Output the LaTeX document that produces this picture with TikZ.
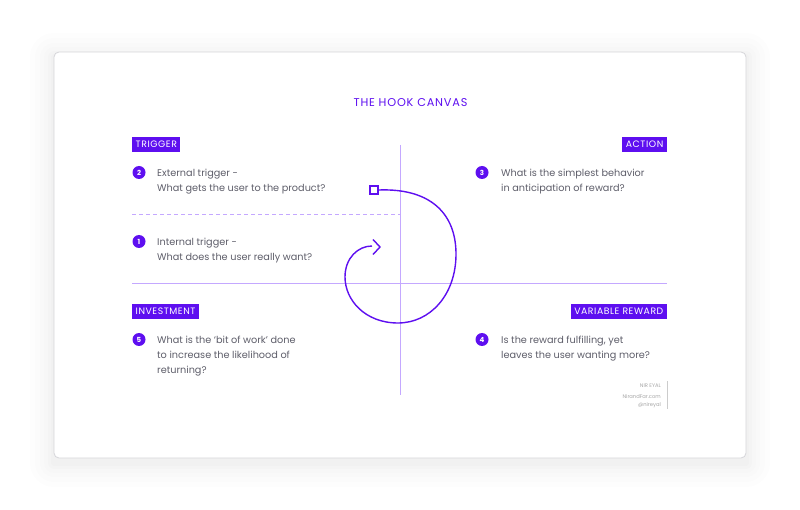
\documentclass[tikz,border=0pt]{standalone}
\usepackage{fontspec}
\setmainfont{Poppins}
\begin{document}
\definecolor{hookpurple}{HTML}{5E0FF0}
\definecolor{axispurple}{HTML}{C4A8FF}
\definecolor{bodygrey}{HTML}{5E5E6A}
\definecolor{cardborder}{HTML}{D6D6DA}
\begin{tikzpicture}[x=1pt,y=-1pt,
  tagbox/.style={fill=hookpurple,text=white,font=\fontsize{9.3}{10}\selectfont\addfontfeature{LetterSpace=6},inner xsep=3.5pt,inner ysep=2pt,minimum height=15pt},
  numdot/.style={circle,fill=hookpurple,text=white,font=\fontsize{7}{7}\selectfont\bfseries,inner sep=0pt,minimum size=13pt},
  bodytext/.style={text=bodygrey,font=\fontsize{9.7}{15}\selectfont,align=left,anchor=north west,inner sep=0pt},
  axis/.style={draw=axispurple,line width=0.9pt},
  footer/.style={text=black!35,font=\fontsize{5.2}{5}\selectfont,anchor=east,inner sep=0pt}]
\useasboundingbox (0,0) rectangle (800,510);
\fill[white] (0,0) rectangle (800,510);
% shadow
\foreach \d/\o in {24/0.006,19/0.007,14/0.008,10/0.009,6/0.01,3/0.012}{
  \fill[black,opacity=\o,rounded corners=\d pt] (54-\d,52-\d+5) rectangle (746+\d,458+\d+5);
}
\draw[cardborder,fill=white,line width=0.8pt,rounded corners=5pt] (54,52) rectangle (746,458);
% title
\node[text=hookpurple,font=\fontsize{11.3}{12}\selectfont\addfontfeature{LetterSpace=7}] (title) at (410.5,103) {THE HOOK CANVAS};
% axes
\coordinate (vtop) at (400,145);
\coordinate (vbot) at (400,395);
\coordinate (hl) at (132,283);
\coordinate (hr) at (667,283);
\coordinate (dl) at (132,214);
\coordinate (dr) at (400,214);
\draw[axis] (vtop) -- (vbot);
\draw[axis] (hl) -- (hr);
\draw[axis,dash pattern=on 4pt off 3pt] (dl) -- (dr);
% tags
\node[tagbox,anchor=north west] (trigger) at (132,136.5) {TRIGGER};
\node[tagbox,anchor=north east] (action) at (667,136.5) {ACTION};
\node[tagbox,anchor=north west] (investment) at (132,303.5) {INVESTMENT};
\node[tagbox,anchor=north east] (reward) at (667,303.5) {VARIABLE REWARD};
% numbered items
\node[numdot] (n2) at (139,172.5) {2};
\node[bodytext] (t2) at (157,168.5) {External trigger -\\What gets the user to the product?};
\node[numdot] (n1) at (139,241.5) {1};
\node[bodytext] (t1) at (157,237.5) {Internal trigger -\\What does the user really want?};
\node[numdot] (n3) at (482,172.5) {3};
\node[bodytext] (t3) at (501,168.5) {What is the simplest behavior\\in anticipation of reward?};
\node[numdot] (n4) at (482,339.5) {4};
\node[bodytext] (t4) at (501,335.5) {Is the reward fulfilling, yet\\leaves the user wanting more?};
\node[numdot] (n5) at (139,339.5) {5};
\node[bodytext] (t5) at (157,335.5) {What is the ‘bit of work’ done\\to increase the likelihood of\\returning?};
% spiral
\node[draw=hookpurple,line width=1.4pt,minimum size=8pt,inner sep=0pt,fill=white] (sq) at (374,190) {};
\coordinate (tip) at (380,247);
\draw[hookpurple,line width=1.4pt] (sq.east) .. controls (432,188) and (456,215) .. (456,254)
  .. controls (456,295) and (430,323) .. (398,323)
  .. controls (365,323) and (345,300) .. (345,277)
  .. controls (345,258) and (358,246) .. (372,246);
\draw[hookpurple,line width=1.4pt] (373,239.5) -- (tip) -- (373,254.5);
% footer
\node[footer] (f1) at (661,386) {NIR EYAL};
\node[footer] (f2) at (661,397) {NirandFar.com};
\node[footer] (f3) at (661,405) {@nireyal};
\coordinate (fv1) at (667,381);
\coordinate (fv2) at (667,409);
\draw[black!20,line width=0.6pt] (fv1) -- (fv2);
\end{tikzpicture}
\end{document}
